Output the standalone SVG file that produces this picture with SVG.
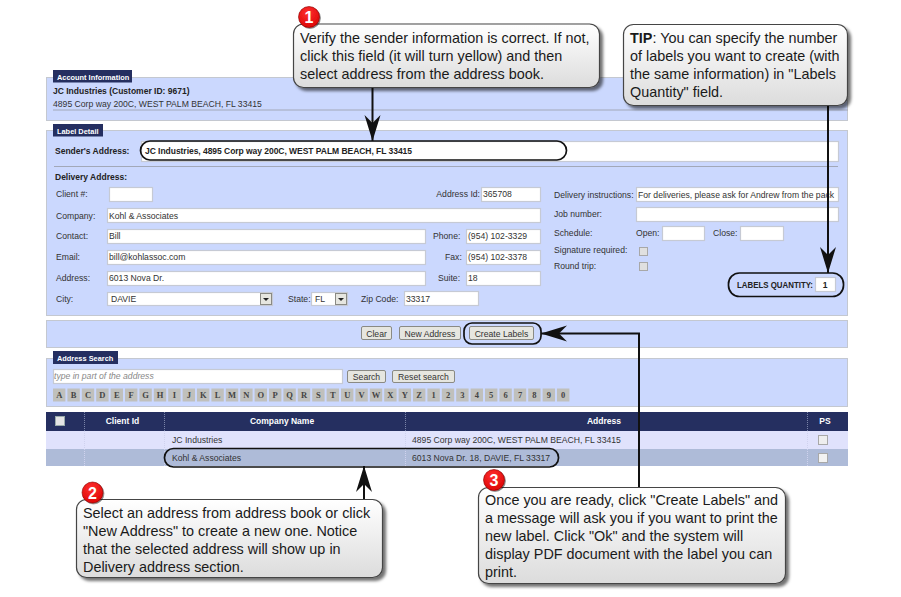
<svg xmlns="http://www.w3.org/2000/svg" width="901" height="597" viewBox="0 0 901 597">
<style>
text{font-family:"Liberation Sans",Arial,sans-serif;font-size:8.65px;fill:#333}
.b{font-weight:bold;fill:#222;font-size:8.5px}
.w{font-weight:bold;fill:#fff;font-size:8.5px}
.tt{font-weight:bold;fill:#fff;font-size:7.4px}
.panel{fill:#cbd8fe;stroke:#c4c8d0;stroke-width:1}
.tab{fill:#252f60}
.inp{fill:#fff;stroke:#c6cad4;stroke-width:1.2}
.sep{stroke:#a2a8b8;stroke-width:1;fill:none}
.btn{fill:#e6e6e0;stroke:#8a8a84;stroke-width:1}
.tile{fill:#c0c0bc}
.tl{font-family:"Liberation Serif",serif;font-weight:bold;font-size:8.5px;text-anchor:middle;fill:#444}
.c{text-anchor:middle}
.e{text-anchor:end}
.ring{fill:none;stroke:#111;stroke-width:1.7}
.call{fill:url(#g);stroke:#444;stroke-width:1.2;filter:url(#s)}
.ct{font-size:14.4px;fill:#1a1a1a}
.conn{fill:none;stroke:#111;stroke-width:2}
.num{font-size:16px;font-weight:bold;fill:#fff;text-anchor:middle}
.dot{fill:url(#r);stroke:#800;stroke-width:.6;filter:url(#s2)}
.cb{fill:#e0e0e0;stroke:#a8a8a8;stroke-width:1}
.dd{stroke:#7a84a8;stroke-width:1;stroke-dasharray:1 1}
</style>
<defs>
<linearGradient id="g" x1="0" y1="0" x2="0" y2="1"><stop offset="0" stop-color="#ffffff"/><stop offset="1" stop-color="#dcdcdc"/></linearGradient>
<radialGradient id="r" cx=".45" cy=".3" r=".8"><stop offset="0" stop-color="#ff3030"/><stop offset="1" stop-color="#d80000"/></radialGradient>
<filter id="s" x="-5%" y="-5%" width="112%" height="118%"><feDropShadow dx="3" dy="3" stdDeviation="1.5" flood-color="#000" flood-opacity=".55"/></filter>
<filter id="s2" x="-20%" y="-20%" width="150%" height="150%"><feDropShadow dx="1" dy="1" stdDeviation=".7" flood-color="#000" flood-opacity=".5"/></filter>
<marker id="a" markerUnits="userSpaceOnUse" markerWidth="28" markerHeight="18" refX="26" refY="8" orient="auto"><path d="M0 0L26 8L0 16L8 8Z" fill="#111"/></marker>
</defs>

<g id="account-panel">
<rect class="panel" x="46.5" y="77.5" width="801" height="43"/>
<path class="sep" d="M53 110H848"/>
<rect class="tab" x="53" y="70" width="79" height="12.5"/>
<text class="tt" x="57" y="79.500">Account Information</text>
<text class="b" x="53" y="94">JC Industries (Customer ID: 9671)</text>
<text x="53" y="107">4895 Corp way 200C, WEST PALM BEACH, FL 33415</text>
</g>

<g id="label-detail-panel">
<rect class="panel" x="46.5" y="130.5" width="801" height="185"/>
<rect class="tab" x="53" y="124" width="50" height="12.5"/>
<text class="tt" x="57" y="133.500">Label Detail</text>
<text class="b" x="55" y="154">Sender's Address:</text>
<rect class="inp" x="141.500" y="141.500" width="697" height="20"/>
<text class="b" x="145" y="154" textLength="267">JC Industries, 4895 Corp way 200C, WEST PALM BEACH, FL 33415</text>
<path class="sep" d="M54 166.500H838"/>
<text class="b" x="55" y="180">Delivery Address:</text>
<text x="56" y="197">Client #:</text><rect class="inp" x="109.500" y="187.500" width="43" height="14"/>
<text x="56" y="218.500">Company:</text><rect class="inp" x="107.500" y="208.500" width="433" height="14"/><text x="109" y="218.500">Kohl &amp; Associates</text>
<text x="56" y="239">Contact:</text><rect class="inp" x="107.500" y="229.500" width="318" height="14"/><text x="109" y="239">Bill</text>
<text x="56" y="260">Email:</text><rect class="inp" x="107.500" y="250.500" width="318" height="14"/><text x="109" y="260">bill@kohlassoc.com</text>
<text x="56" y="281">Address:</text><rect class="inp" x="107.500" y="271.500" width="318" height="14"/><text x="109" y="281">6013 Nova Dr.</text>
<text x="56" y="302">City:</text><rect class="inp" x="107.500" y="292.500" width="165" height="13"/><text x="111" y="302">DAVIE</text>
<rect class="btn" x="260.500" y="293.500" width="11" height="11"/><path d="M263 298h6l-3 3z" fill="#222"/>
<text x="288" y="302">State:</text><rect class="inp" x="311.500" y="292.500" width="36" height="13"/><text x="315" y="302">FL</text>
<rect class="btn" x="335.500" y="293.500" width="11" height="11"/><path d="M338 298h6l-3 3z" fill="#222"/>
<text x="361" y="302">Zip Code:</text><rect class="inp" x="404.500" y="291.500" width="74" height="14"/><text x="406" y="302">33317</text>
<text class="e" x="480" y="197">Address Id:</text><rect class="inp" x="481.500" y="187.500" width="59" height="14"/><text x="483" y="197">365708</text>
<text x="433" y="239">Phone:</text><rect class="inp" x="466.500" y="229.500" width="74" height="14"/><text x="468" y="239">(954) 102-3329</text>
<text x="445" y="260">Fax:</text><rect class="inp" x="466.500" y="250.500" width="74" height="14"/><text x="468" y="260">(954) 102-3378</text>
<text x="438" y="281">Suite:</text><rect class="inp" x="466.500" y="271.500" width="74" height="14"/><text x="468" y="281">18</text>
<text x="554" y="198">Delivery instructions:</text><rect class="inp" x="636.500" y="187.500" width="202" height="14"/><text x="638" y="198">For deliveries, please ask for Andrew from the pack</text>
<text x="554" y="217">Job number:</text><rect class="inp" x="636.500" y="207.500" width="202" height="14"/>
<text x="554" y="236">Schedule:</text><text x="636" y="236">Open:</text><rect class="inp" x="662.500" y="226.500" width="42" height="14"/>
<text x="713" y="236">Close:</text><rect class="inp" x="740.500" y="226.500" width="43" height="14"/>
<text x="554" y="253">Signature required:</text><rect class="cb" x="639.500" y="247.500" width="8" height="8"/>
<text x="554" y="269">Round trip:</text><rect class="cb" x="639.500" y="262.500" width="8" height="8"/>
<text class="b" x="737" y="288" textLength="76" lengthAdjust="spacingAndGlyphs">LABELS QUANTITY:</text><rect class="inp" x="815.500" y="277.500" width="20" height="14"/><text class="b c" x="825" y="288">1</text>
</g>

<g id="button-panel">
<rect class="panel" x="46.5" y="320.5" width="801" height="27"/>
<rect class="btn" x="361.500" y="326.500" width="30" height="13" rx="1.500"/><text class="c" x="376.500" y="336.500">Clear</text>
<rect class="btn" x="399.500" y="326.500" width="61" height="13" rx="1.500"/><text class="c" x="430" y="336.500">New Address</text>
<rect class="btn" x="469.500" y="326.500" width="64" height="13" rx="1.500"/><text class="c" x="501.500" y="336.500">Create Labels</text>
</g>

<g id="address-search-panel">
<rect class="panel" x="46.5" y="358.5" width="801" height="48"/>
<rect class="tab" x="53" y="351" width="65" height="13"/>
<text class="tt" x="57" y="361">Address Search</text>
<rect class="inp" x="53.500" y="369.500" width="289" height="14"/>
<text x="54" y="379" style="font-style:italic;fill:#888">type in part of the address</text>
<rect class="btn" x="347.500" y="370.500" width="38" height="12" rx="1.500"/><text class="c" x="366.500" y="379.500">Search</text>
<rect class="btn" x="392.500" y="370.500" width="62" height="12" rx="1.500"/><text class="c" x="423.500" y="379.500">Reset search</text>
<g id="alphabet">
<rect class="tile" x="53" y="388.500" width="12.400" height="13"/><text class="tl" x="59.200" y="398">A</text>
<rect class="tile" x="67.400" y="388.500" width="12.400" height="13"/><text class="tl" x="73.600" y="398">B</text>
<rect class="tile" x="81.800" y="388.500" width="12.400" height="13"/><text class="tl" x="88" y="398">C</text>
<rect class="tile" x="96.200" y="388.500" width="12.400" height="13"/><text class="tl" x="102.400" y="398">D</text>
<rect class="tile" x="110.600" y="388.500" width="12.400" height="13"/><text class="tl" x="116.800" y="398">E</text>
<rect class="tile" x="125" y="388.500" width="12.400" height="13"/><text class="tl" x="131.200" y="398">F</text>
<rect class="tile" x="139.400" y="388.500" width="12.400" height="13"/><text class="tl" x="145.600" y="398">G</text>
<rect class="tile" x="153.800" y="388.500" width="12.400" height="13"/><text class="tl" x="160" y="398">H</text>
<rect class="tile" x="168.200" y="388.500" width="12.400" height="13"/><text class="tl" x="174.400" y="398">I</text>
<rect class="tile" x="182.600" y="388.500" width="12.400" height="13"/><text class="tl" x="188.800" y="398">J</text>
<rect class="tile" x="197" y="388.500" width="12.400" height="13"/><text class="tl" x="203.200" y="398">K</text>
<rect class="tile" x="211.400" y="388.500" width="12.400" height="13"/><text class="tl" x="217.600" y="398">L</text>
<rect class="tile" x="225.800" y="388.500" width="12.400" height="13"/><text class="tl" x="232" y="398">M</text>
<rect class="tile" x="240.200" y="388.500" width="12.400" height="13"/><text class="tl" x="246.400" y="398">N</text>
<rect class="tile" x="254.600" y="388.500" width="12.400" height="13"/><text class="tl" x="260.800" y="398">O</text>
<rect class="tile" x="269" y="388.500" width="12.400" height="13"/><text class="tl" x="275.200" y="398">P</text>
<rect class="tile" x="283.400" y="388.500" width="12.400" height="13"/><text class="tl" x="289.600" y="398">Q</text>
<rect class="tile" x="297.800" y="388.500" width="12.400" height="13"/><text class="tl" x="304" y="398">R</text>
<rect class="tile" x="312.200" y="388.500" width="12.400" height="13"/><text class="tl" x="318.400" y="398">S</text>
<rect class="tile" x="326.600" y="388.500" width="12.400" height="13"/><text class="tl" x="332.800" y="398">T</text>
<rect class="tile" x="341" y="388.500" width="12.400" height="13"/><text class="tl" x="347.200" y="398">U</text>
<rect class="tile" x="355.400" y="388.500" width="12.400" height="13"/><text class="tl" x="361.600" y="398">V</text>
<rect class="tile" x="369.800" y="388.500" width="12.400" height="13"/><text class="tl" x="376" y="398">W</text>
<rect class="tile" x="384.200" y="388.500" width="12.400" height="13"/><text class="tl" x="390.400" y="398">X</text>
<rect class="tile" x="398.600" y="388.500" width="12.400" height="13"/><text class="tl" x="404.800" y="398">Y</text>
<rect class="tile" x="413" y="388.500" width="12.400" height="13"/><text class="tl" x="419.200" y="398">Z</text>
<rect class="tile" x="427.400" y="388.500" width="12.400" height="13"/><text class="tl" x="433.600" y="398">1</text>
<rect class="tile" x="441.800" y="388.500" width="12.400" height="13"/><text class="tl" x="448" y="398">2</text>
<rect class="tile" x="456.200" y="388.500" width="12.400" height="13"/><text class="tl" x="462.400" y="398">3</text>
<rect class="tile" x="470.600" y="388.500" width="12.400" height="13"/><text class="tl" x="476.800" y="398">4</text>
<rect class="tile" x="485" y="388.500" width="12.400" height="13"/><text class="tl" x="491.200" y="398">5</text>
<rect class="tile" x="499.400" y="388.500" width="12.400" height="13"/><text class="tl" x="505.600" y="398">6</text>
<rect class="tile" x="513.800" y="388.500" width="12.400" height="13"/><text class="tl" x="520" y="398">7</text>
<rect class="tile" x="528.200" y="388.500" width="12.400" height="13"/><text class="tl" x="534.400" y="398">8</text>
<rect class="tile" x="542.600" y="388.500" width="12.400" height="13"/><text class="tl" x="548.800" y="398">9</text>
<rect class="tile" x="557" y="388.500" width="12.400" height="13"/><text class="tl" x="563.200" y="398">0</text>
</g>
</g>

<g id="address-table">
<rect x="46" y="412" width="802" height="19" fill="#252f60"/>
<rect x="46" y="431" width="802" height="18" fill="#e0e2fc"/>
<rect x="46" y="449" width="802" height="17" fill="#aebbd8"/>
<path class="dd" d="M84.500 412V431M164.500 412V431M405.500 412V431M807.500 412V431"/>
<path d="M84.500 431V466M164.500 431V466M405.500 431V466M807.500 431V466" stroke="#cfd2ee" stroke-width="1" stroke-dasharray="1 1" fill="none"/>
<rect x="55.500" y="416.500" width="9" height="9" fill="#e4e4e4" stroke="#9aa"/>
<text class="w c" x="122.500" y="424">Client Id</text>
<text class="w c" x="282" y="424">Company Name</text>
<text class="w c" x="604" y="424">Address</text>
<text class="w c" x="825" y="424">PS</text>
<text x="172" y="442.500">JC Industries</text>
<text x="412" y="442.500">4895 Corp way 200C, WEST PALM BEACH, FL 33415</text>
<rect class="cb" x="818.500" y="435.500" width="9" height="9" style="fill:#eeeeee"/>
<text x="172" y="460.500">Kohl &amp; Associates</text>
<text x="412" y="460.500">6013 Nova Dr. 18, DAVIE, FL 33317</text>
<rect class="cb" x="818.500" y="453.500" width="9" height="9" style="fill:#f2f2f2"/>
</g>

<g id="highlights">
<rect class="ring" x="140.500" y="141" width="426" height="19" rx="9.500"/>
<rect class="ring" x="728.500" y="273" width="115" height="23.500" rx="11"/>
<rect class="ring" x="464" y="323" width="77" height="21" rx="8"/>
<rect class="ring" x="164.500" y="448.500" width="394" height="18.500" rx="9"/>
</g>

<g id="connectors">
<path class="conn" d="M372.500 88V141" marker-end="url(#a)"/>
<path class="conn" d="M828 106V273" marker-end="url(#a)"/>
<path class="conn" d="M639 487V333.500H541" marker-end="url(#a)"/>
<path class="conn" d="M364 499V466" marker-end="url(#a)"/>
</g>

<g id="callout-1">
<rect class="call" x="293.500" y="24" width="306" height="63.500" rx="10"/>
<circle class="dot" cx="309" cy="17" r="10.500"/><text class="num" x="309" y="23">1</text>
<text class="ct" x="300" y="43">Verify the sender information is correct. If not,</text>
<text class="ct" x="300" y="61">click this field (it will turn yellow) and then</text>
<text class="ct" x="300" y="79">select address from the address book.</text>
</g>
<g id="callout-tip">
<rect class="call" x="623.500" y="24.500" width="224" height="81" rx="10"/>
<text class="ct" x="630" y="43"><tspan font-weight="bold">TIP</tspan>: You can specify the number</text>
<text class="ct" x="630" y="61">of labels you want to create (with</text>
<text class="ct" x="630" y="79">the same information) in "Labels</text>
<text class="ct" x="630" y="97">Quantity" field.</text>
</g>
<g id="callout-2">
<rect class="call" x="76.500" y="499.500" width="306" height="78" rx="10"/>
<circle class="dot" cx="92.500" cy="492.500" r="10.500"/><text class="num" x="92.500" y="498.500">2</text>
<text class="ct" x="83" y="518">Select an address from address book or click</text>
<text class="ct" x="83" y="536">"New Address" to create a new one. Notice</text>
<text class="ct" x="83" y="554">that the selected address will show up in</text>
<text class="ct" x="83" y="572">Delivery address section.</text>
</g>
<g id="callout-3">
<rect class="call" x="478.500" y="487.500" width="307" height="96" rx="10"/>
<circle class="dot" cx="494" cy="480" r="10.500"/><text class="num" x="494" y="486">3</text>
<text class="ct" x="485" y="505">Once you are ready, click "Create Labels" and</text>
<text class="ct" x="485" y="523">a message will ask you if you want to print the</text>
<text class="ct" x="485" y="541">new label. Click "Ok" and the system will</text>
<text class="ct" x="485" y="559">display PDF document with the label you can</text>
<text class="ct" x="485" y="577">print.</text>
</g>
</svg>
